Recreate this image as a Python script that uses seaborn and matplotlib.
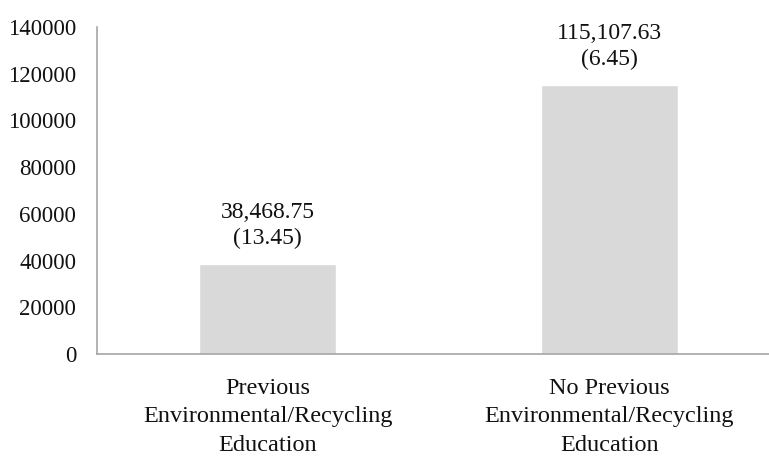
import matplotlib
matplotlib.use("Agg")
import matplotlib.pyplot as plt
import seaborn as sns
import pandas as pd

categories = ["Previous\nEnvironmental/Recycling\nEducation",
              "No Previous\nEnvironmental/Recycling\nEducation"]
means = [38468.75, 115107.63]
errors = [13.45, 6.45]
y_ticks = [0, 20000, 40000, 60000, 80000, 100000, 120000, 140000]

sns.set_theme(style="white")
plt.rcParams["font.family"] = ["Liberation Serif", "DejaVu Serif"]

df = pd.DataFrame({"group": categories, "mean": means})

fig = plt.figure(figsize=(7.69, 4.58), dpi=100)
ax = fig.add_axes([97 / 769, 104 / 458, 683 / 769, 327 / 458])

sns.barplot(data=df, x="group", y="mean", color="#D9D9D9", width=0.40,
            saturation=1, ax=ax)

ax.set_ylim(0, 140000)
ax.set_xlim(-0.5, 1.5)
ax.set_yticks(y_ticks)
ax.set_yticklabels([str(t) for t in y_ticks], fontsize=16.5, color="#111111")
ax.tick_params(axis="x", labelsize=17.5, colors="#111111", length=0, pad=17)
ax.tick_params(axis="y", length=0, pad=15)
for lbl in ax.get_xticklabels():
    lbl.set_linespacing(1.47)
ax.set_xlabel("")
ax.set_ylabel("")

for side in ("top", "right"):
    ax.spines[side].set_visible(False)
for side in ("left", "bottom"):
    ax.spines[side].set_color("#A6A6A6")
    ax.spines[side].set_linewidth(1.2)

for i, (m, e) in enumerate(zip(means, errors)):
    ax.annotate(f"{m:,.2f}\n({e:.2f})", xy=(i, m), xytext=(0, 11),
                textcoords="offset points", ha="center", va="bottom",
                fontsize=17, color="#111111", linespacing=1.3)

fig.savefig("out.png", dpi=100)
